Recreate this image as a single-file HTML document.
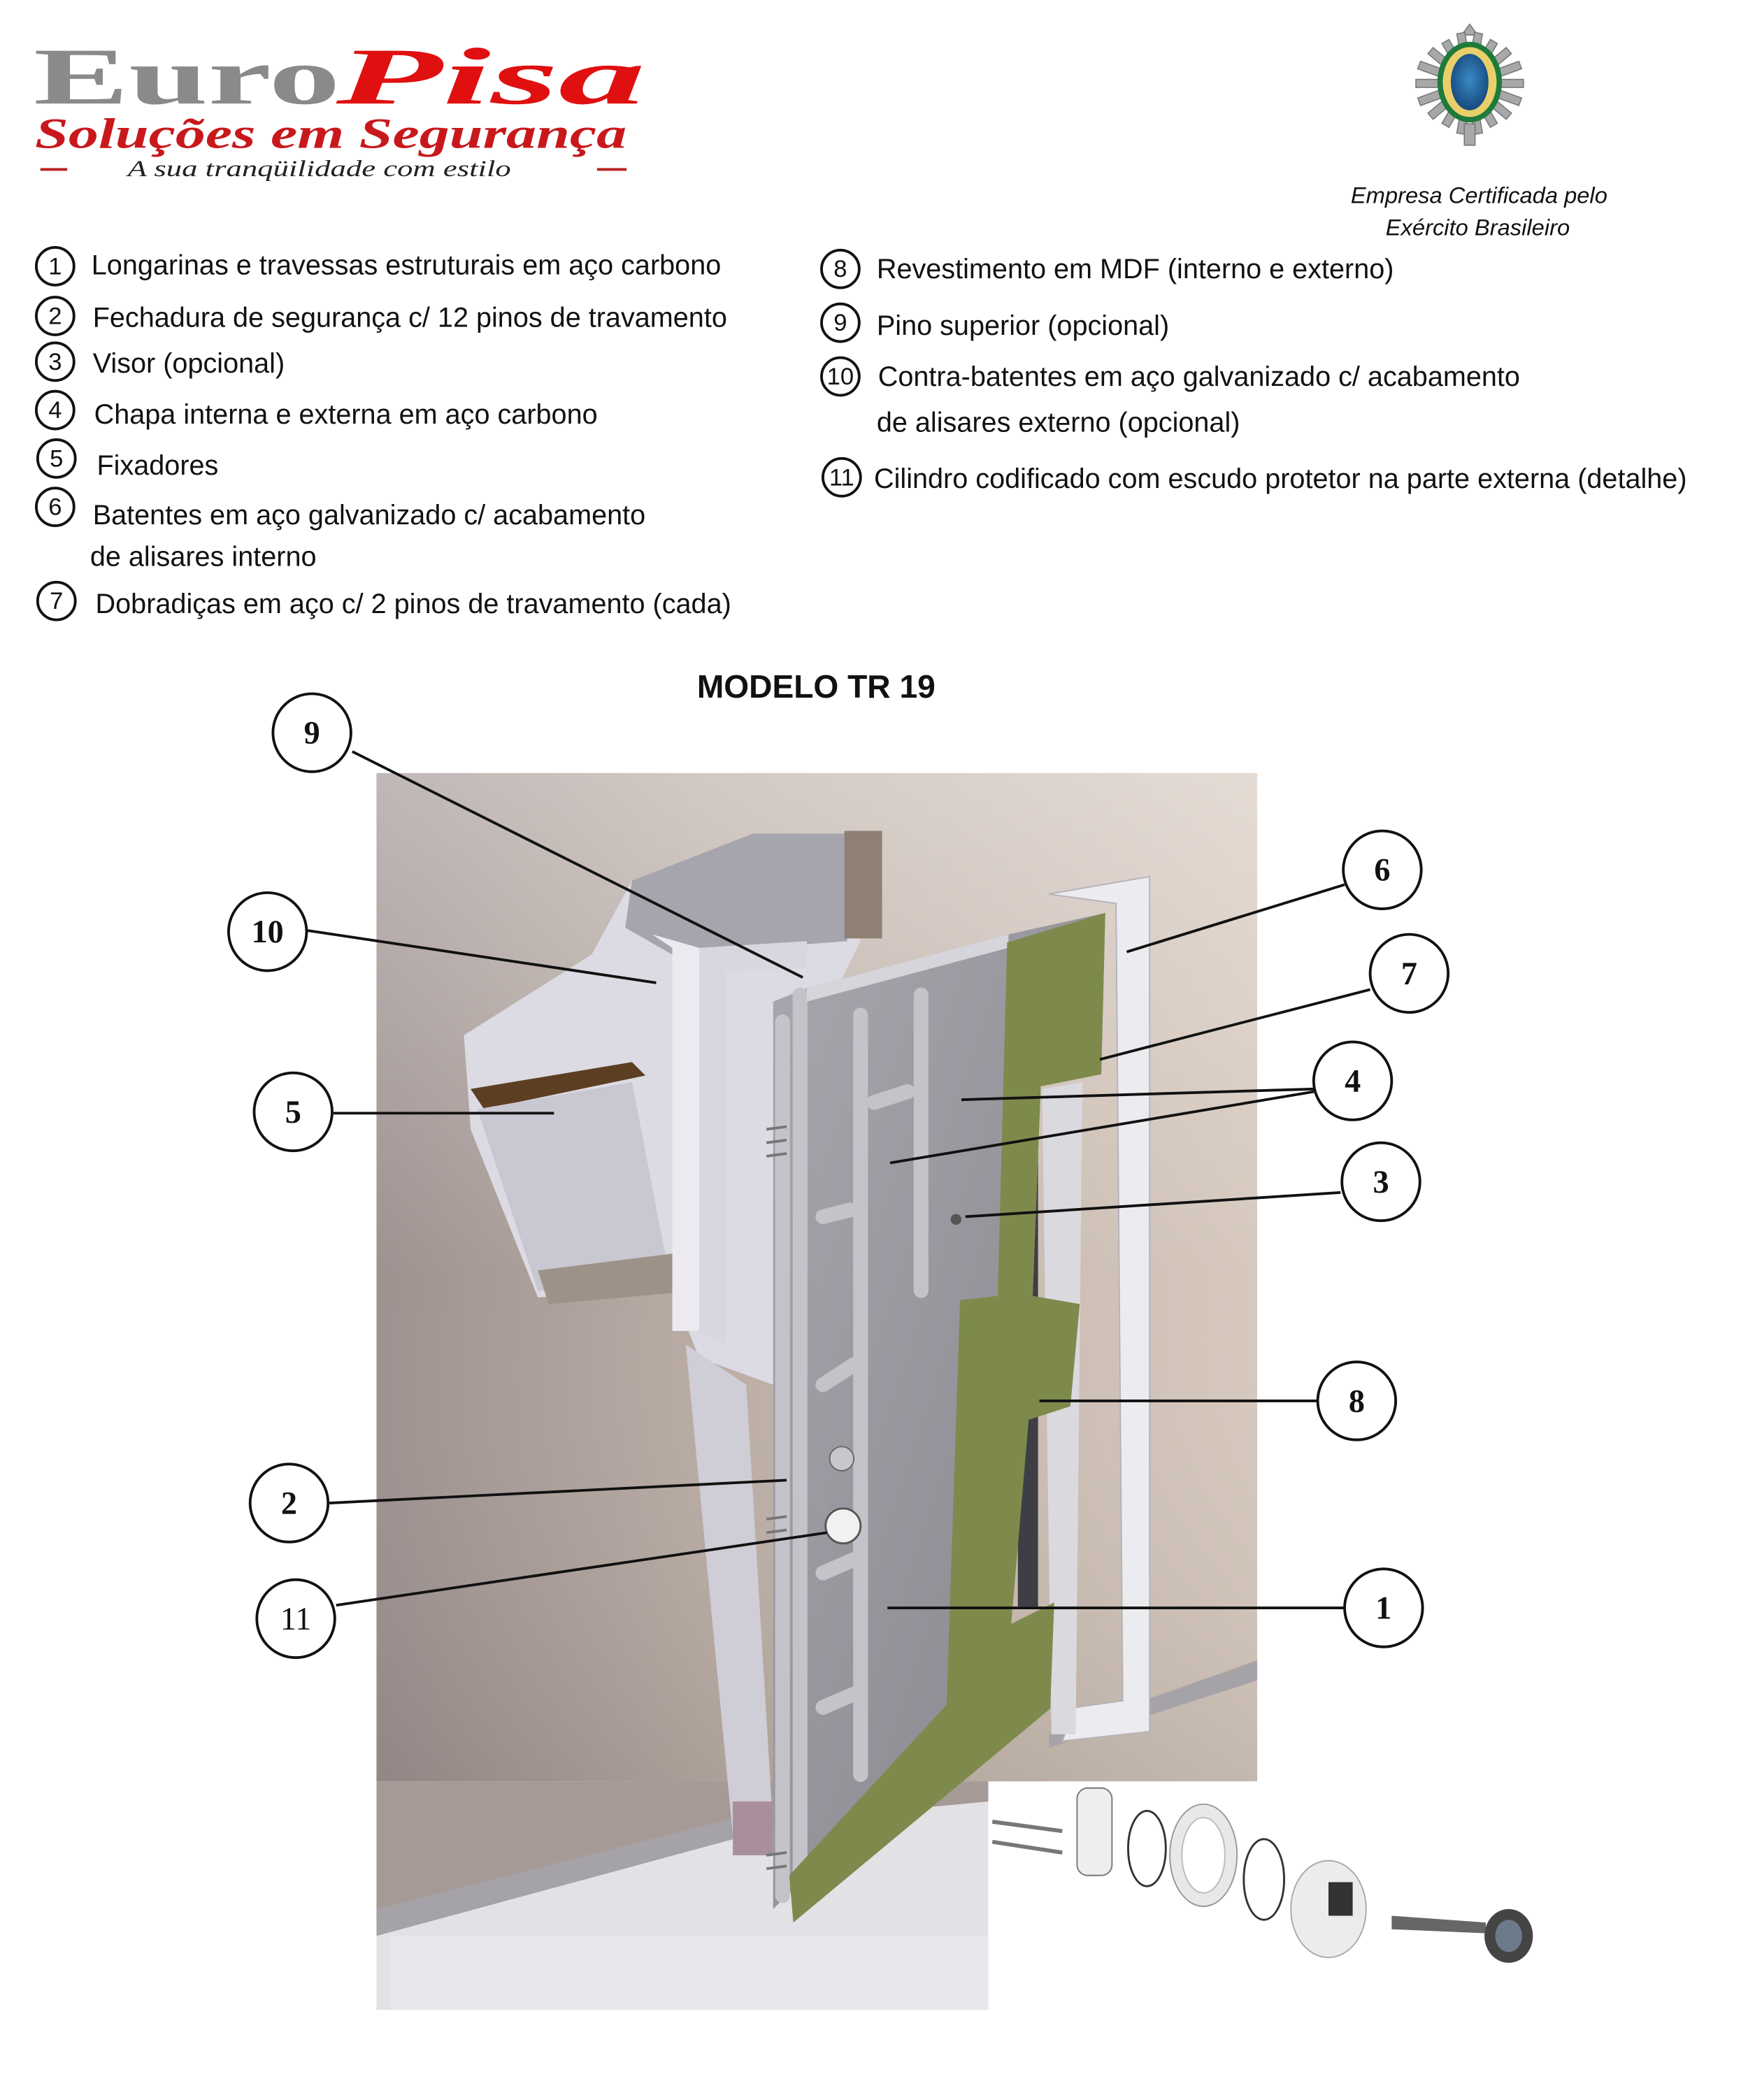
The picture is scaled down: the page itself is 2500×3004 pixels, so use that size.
<!DOCTYPE html>
<html><head><meta charset="utf-8"><style>
html,body{margin:0;padding:0;background:#fff;width:2500px;height:3004px;overflow:hidden}
svg{display:block}
.t{font-family:"Liberation Sans",sans-serif;font-size:20.6px;fill:#111}
.n{font-family:"Liberation Sans",sans-serif;font-size:18px;fill:#111;text-anchor:middle}
.c{font-family:"Liberation Serif",serif;font-size:24px;font-weight:bold;fill:#111;text-anchor:middle}
</style></head><body>
<svg width="2500" height="3004" viewBox="0 0 1300 1562" xmlns="http://www.w3.org/2000/svg">
<defs>
<linearGradient id="wall" x1="0" y1="0" x2="1" y2="0">
<stop offset="0" stop-color="#9e9290"/><stop offset="0.4" stop-color="#bcaea6"/><stop offset="1" stop-color="#d6c8bd"/></linearGradient>
<linearGradient id="wallv" x1="0" y1="0" x2="0" y2="1">
<stop offset="0" stop-color="#fff" stop-opacity="0.35"/><stop offset="0.5" stop-color="#fff" stop-opacity="0"/><stop offset="1" stop-color="#000" stop-opacity="0.08"/></linearGradient>
<linearGradient id="door" x1="0" y1="0" x2="1" y2="1">
<stop offset="0" stop-color="#a9a7ae"/><stop offset="1" stop-color="#85838a"/></linearGradient>
<radialGradient id="em" cx="0.5" cy="0.45" r="0.5"><stop offset="0" stop-color="#3a8ac4"/><stop offset="1" stop-color="#1a4f86"/></radialGradient>
</defs>

<!-- Logo -->
<text x="25" y="77" font-family="Liberation Serif,serif" font-weight="bold" font-size="60" fill="#8a8a8a" textLength="228" lengthAdjust="spacingAndGlyphs">Euro</text>
<text x="250" y="77" font-family="Liberation Serif,serif" font-weight="bold" font-style="italic" font-size="60" fill="#e01010" textLength="230" lengthAdjust="spacingAndGlyphs">Pisa</text>
<text x="26" y="110" font-family="Liberation Serif,serif" font-weight="bold" font-style="italic" font-size="32" fill="#c8181c" textLength="440" lengthAdjust="spacingAndGlyphs">Soluções em Segurança</text>
<text x="95" y="131" font-family="Liberation Serif,serif" font-style="italic" font-size="17" fill="#222" textLength="285" lengthAdjust="spacingAndGlyphs">A sua tranqüilidade com estilo</text>
<rect x="30" y="125" width="20" height="2" fill="#b82020"/><rect x="444" y="125" width="22" height="2" fill="#b82020"/>

<!-- Emblem -->
<g transform="translate(1093,62)">
<g fill="#a8a8a8" stroke="#777" stroke-width="0.8">
<polygon points="0,-44 6,-36 -6,-36"/>
<rect x="-40" y="-3" width="80" height="6"/>
<rect x="-40" y="-3" width="80" height="6" transform="rotate(20)"/>
<rect x="-40" y="-3" width="80" height="6" transform="rotate(-20)"/>
<rect x="-38" y="-3" width="76" height="6" transform="rotate(40)"/>
<rect x="-38" y="-3" width="76" height="6" transform="rotate(-40)"/>
<rect x="-36" y="-3" width="72" height="6" transform="rotate(60)"/>
<rect x="-36" y="-3" width="72" height="6" transform="rotate(-60)"/>
<rect x="-38" y="-3" width="76" height="6" transform="rotate(80)"/>
<rect x="-38" y="-3" width="76" height="6" transform="rotate(-80)"/>
<rect x="-4" y="30" width="8" height="16"/>
</g>
<ellipse cx="0" cy="-1" rx="24" ry="30" fill="#1e7a3a"/>
<ellipse cx="0" cy="-1" rx="20" ry="26" fill="#e9cf6a"/>
<ellipse cx="0" cy="-1" rx="14" ry="21" fill="url(#em)"/>
</g>
<text x="1100" y="151" text-anchor="middle" font-family="Liberation Sans,sans-serif" font-style="italic" font-size="17" fill="#111">Empresa Certificada pelo</text>
<text x="1099" y="175" text-anchor="middle" font-family="Liberation Sans,sans-serif" font-style="italic" font-size="17" fill="#111">Exército Brasileiro</text>

<!-- lists -->
<g fill="none" stroke="#111" stroke-width="2">
<circle cx="41" cy="198" r="14"/><circle cx="41" cy="235" r="14"/><circle cx="41" cy="269" r="14"/>
<circle cx="41" cy="305" r="14"/><circle cx="42" cy="341" r="14"/><circle cx="41" cy="377" r="14"/><circle cx="42" cy="447" r="14"/>
<circle cx="625" cy="200" r="14"/><circle cx="625" cy="240" r="14"/><circle cx="625" cy="280" r="14"/><circle cx="626" cy="355" r="14"/>
</g>
<g class="n">
<text x="41" y="204">1</text><text x="41" y="241">2</text><text x="41" y="275">3</text><text x="41" y="311">4</text>
<text x="42" y="347">5</text><text x="41" y="383">6</text><text x="42" y="453">7</text>
<text x="625" y="206">8</text><text x="625" y="246">9</text><text x="625" y="286">10</text><text x="626" y="361">11</text>
</g>
<g class="t">
<text x="68" y="204">Longarinas e travessas estruturais em aço carbono</text>
<text x="69" y="243">Fechadura de segurança  c/ 12 pinos de travamento</text>
<text x="69" y="277">Visor (opcional)</text>
<text x="70" y="315">Chapa interna e externa em aço carbono</text>
<text x="72" y="353">Fixadores</text>
<text x="69" y="390">Batentes em aço galvanizado c/ acabamento</text>
<text x="67" y="421">de alisares interno</text>
<text x="71" y="456">Dobradiças em aço c/ 2 pinos de travamento (cada)</text>
<text x="652" y="207">Revestimento em MDF (interno e externo)</text>
<text x="652" y="249">Pino superior (opcional)</text>
<text x="653" y="287">Contra-batentes em aço galvanizado c/ acabamento</text>
<text x="652" y="321">de alisares externo (opcional)</text>
<text x="650" y="363">Cilindro codificado com escudo protetor na parte externa (detalhe)</text>
</g>

<text x="607" y="519" text-anchor="middle" font-family="Liberation Sans,sans-serif" font-weight="bold" font-size="24" fill="#111">MODELO TR 19</text>

<!-- Picture -->
<rect x="280" y="575" width="655" height="750" fill="url(#wall)"/>
<rect x="280" y="1325" width="455" height="170" fill="#e4e1e6"/>
<polygon points="280,1325 735,1325 735,1340 575,1355 280,1430" fill="#a59a96"/>
<rect x="280" y="575" width="655" height="750" fill="url(#wallv)"/>
<polygon points="280,1420 575,1345 575,1360 280,1440" fill="#a6a3a8"/>
<polygon points="780,1290 935,1235 935,1250 780,1300" fill="#a6a3a8"/>
<polygon points="290,1440 735,1440 735,1495 290,1495" fill="#eae7ec"/>
<!-- cutout ceiling region -->
<polygon points="345,770 440,710 470,655 560,620 630,620 640,700 600,780 575,1030 520,1010 500,960 400,965 350,840" fill="#dcdae3"/>
<polygon points="350,810 470,790 480,800 360,825" fill="#5c3e22"/>
<polygon points="355,825 470,805 500,960 400,960" fill="#c9c7d2"/>
<polygon points="470,655 560,620 630,620 630,700 500,710 465,690" fill="#a6a4ad"/>
<rect x="628" y="618" width="28" height="80" fill="#8e8074"/>
<polygon points="400,945 520,930 520,960 408,970" fill="#9d9287"/>
<!-- inner frame left -->
<polygon points="485,695 520,705 520,990 500,990 500,705" fill="#eceaf0"/>
<polygon points="520,705 600,700 600,720 540,722 540,1000 520,990" fill="#d8d6de"/>
<polygon points="510,1000 555,1030 575,1360 545,1365" fill="#cfcdd6"/>
<rect x="545" y="1340" width="30" height="40" fill="#a98f9c"/>
<!-- right frame -->
<polygon points="780,665 855,652 855,1288 790,1295 800,1270 835,1265 830,672" fill="#ececf0" stroke="#b4b3ba" stroke-width="1"/>
<polygon points="775,810 805,805 800,1290 782,1290" fill="#dad9de"/>
<rect x="757" y="815" width="15" height="380" fill="#3f3e44"/>
<!-- door leaf -->
<polygon points="575,745 600,735 750,695 822,679 819,799 774,808 768,964 803,970 796,1046 765,1056 752,1208 784,1192 781,1271 587,1408 575,1420" fill="url(#door)"/>
<g stroke="#c4c3c9" stroke-width="11" fill="none" stroke-linecap="round">
<line x1="582" y1="760" x2="582" y2="1410"/><line x1="595" y1="740" x2="595" y2="1410"/>
<line x1="640" y1="755" x2="640" y2="1320"/><line x1="685" y1="740" x2="685" y2="960"/>
<line x1="612" y1="1030" x2="635" y2="1015"/><line x1="612" y1="1170" x2="635" y2="1160"/><line x1="612" y1="1270" x2="635" y2="1260"/>
<line x1="650" y1="820" x2="675" y2="812"/><line x1="612" y1="905" x2="632" y2="900"/>
</g>
<polygon points="600,735 750,695 750,705 600,745" fill="#d6d5dc"/>
<g stroke="#777" stroke-width="2"><line x1="570" y1="840" x2="585" y2="838"/><line x1="570" y1="850" x2="585" y2="848"/><line x1="570" y1="860" x2="585" y2="858"/><line x1="570" y1="1130" x2="585" y2="1128"/><line x1="570" y1="1140" x2="585" y2="1138"/><line x1="570" y1="1380" x2="585" y2="1378"/><line x1="570" y1="1390" x2="585" y2="1388"/></g>
<circle cx="626" cy="1085" r="9" fill="#c8c7cc" stroke="#666"/>
<circle cx="627" cy="1135" r="13" fill="#f1f1f1" stroke="#555" stroke-width="1.5"/>
<circle cx="711" cy="907" r="4" fill="#555"/>
<!-- green MDF -->
<polygon points="749,701 822,679 819,799 774,808 768,964 803,970 796,1046 765,1056 752,1208 784,1192 781,1271 590,1430 587,1395 704,1268 714,967 742,964" fill="#7d8a4b"/>

<!-- lock parts -->
<g stroke="#777" fill="#eee">
<line x1="738" y1="1355" x2="790" y2="1362" stroke-width="3"/><line x1="738" y1="1370" x2="790" y2="1378" stroke-width="3"/>
<rect x="801" y="1330" width="26" height="65" rx="8"/>
</g>
<ellipse cx="853" cy="1375" rx="14" ry="28" fill="none" stroke="#333" stroke-width="1.5"/>
<ellipse cx="895" cy="1380" rx="25" ry="38" fill="#e8e8ea" stroke="#999"/>
<ellipse cx="895" cy="1380" rx="16" ry="28" fill="#fff" stroke="#bbb"/>
<ellipse cx="940" cy="1398" rx="15" ry="30" fill="none" stroke="#333" stroke-width="1.5"/>
<ellipse cx="988" cy="1420" rx="28" ry="36" fill="#ececee" stroke="#aaa"/>
<rect x="988" y="1400" width="18" height="25" fill="#333"/>
<polygon points="1035,1425 1105,1430 1105,1438 1035,1435" fill="#666"/>
<ellipse cx="1122" cy="1440" rx="18" ry="20" fill="#444"/><ellipse cx="1122" cy="1440" rx="10" ry="12" fill="#6c7a8a"/>

<!-- callout lines -->
<g stroke="#111" stroke-width="2" fill="none">
<line x1="262" y1="559" x2="597" y2="727"/>
<line x1="228" y1="692" x2="488" y2="731"/>
<line x1="1000" y1="658" x2="838" y2="708"/>
<line x1="1019" y1="736" x2="818" y2="788"/>
<line x1="977" y1="810" x2="715" y2="818"/>
<line x1="977" y1="812" x2="662" y2="865"/>
<line x1="997" y1="887" x2="718" y2="905"/>
<line x1="248" y1="828" x2="412" y2="828"/>
<line x1="980" y1="1042" x2="773" y2="1042"/>
<line x1="245" y1="1118" x2="585" y2="1101"/>
<line x1="250" y1="1194" x2="615" y2="1140"/>
<line x1="1000" y1="1196" x2="660" y2="1196"/>
</g>
<g fill="#fff" stroke="#111" stroke-width="2">
<circle cx="232" cy="545" r="29"/><circle cx="199" cy="693" r="29"/><circle cx="1028" cy="647" r="29"/>
<circle cx="1048" cy="724" r="29"/><circle cx="1006" cy="804" r="29"/><circle cx="1027" cy="879" r="29"/>
<circle cx="218" cy="827" r="29"/><circle cx="1009" cy="1042" r="29"/><circle cx="215" cy="1118" r="29"/>
<circle cx="220" cy="1204" r="29"/><circle cx="1029" cy="1196" r="29"/>
</g>
<g class="c">
<text x="232" y="553">9</text><text x="199" y="701">10</text><text x="1028" y="655">6</text>
<text x="1048" y="732">7</text><text x="1006" y="812">4</text><text x="1027" y="887">3</text>
<text x="218" y="835">5</text><text x="1009" y="1050">8</text><text x="215" y="1126">2</text>
<text x="220" y="1212" font-weight="normal">11</text><text x="1029" y="1204">1</text>
</g>
</svg>
</body></html>
